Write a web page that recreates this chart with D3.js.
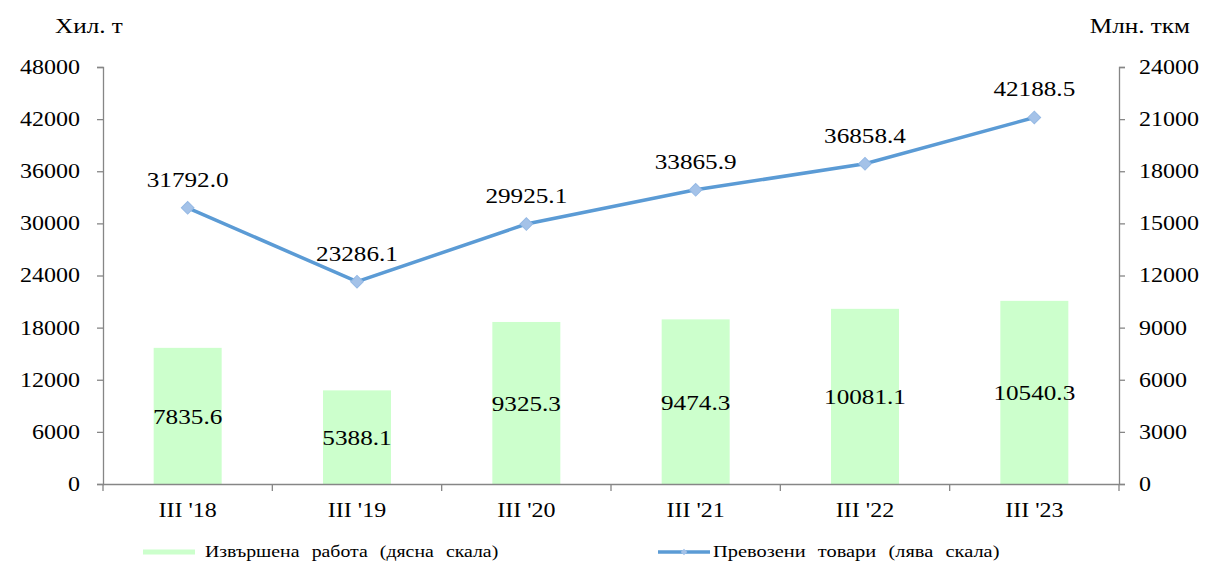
<!DOCTYPE html>
<html><head><meta charset="utf-8">
<script src="https://cdn.jsdelivr.net/npm/d3@7"></script>
<style>body{margin:0;background:#fff}svg{display:block}svg text{font-family:"Liberation Serif","Times New Roman",Tinos,"DejaVu Serif",serif;fill:#000}</style>
</head><body><svg id="c" width="1214" height="562"></svg>
<script>
const categories=["III '18","III '19","III '20","III '21","III '22","III '23"];
const workValues=[7835.6,5388.1,9325.3,9474.3,10081.1,10540.3];
const goodsValues=[31792.0,23286.1,29925.1,33865.9,36858.4,42188.5];
const leftTicks=[0,6000,12000,18000,24000,30000,36000,42000,48000];
const rightTicks=[0,3000,6000,9000,12000,15000,18000,21000,24000];
const svg=d3.select("#c");
const L=103,R=1119,T=67,B=484;
const x=d3.scaleBand().domain(categories).range([L,R]);
const yL=d3.scaleLinear().domain([0,48000]).range([B,T]);
const yR=d3.scaleLinear().domain([0,24000]).range([B,T]);
const axisColor="#868686";
const FF='"Liberation Serif","Times New Roman",Tinos,"DejaVu Serif",serif';
// bars
const bw=68;
svg.selectAll("rect.bar").data(workValues).join("rect").attr("class","bar")
 .attr("x",(d,i)=>x(categories[i])+x.bandwidth()/2-bw/2).attr("width",bw)
 .attr("y",d=>yR(d)).attr("height",d=>B-yR(d)).attr("fill","#CCFFCC");
// axes
const gl=svg.append("g").attr("transform",`translate(${L},0)`).call(d3.axisLeft(yL).tickValues(leftTicks).tickSize(6).tickPadding(17).tickFormat(d3.format("d")));
const gr=svg.append("g").attr("transform",`translate(${R},0)`).call(d3.axisRight(yR).tickValues(rightTicks).tickSize(6).tickPadding(14).tickFormat(d3.format("d")));
const gx=svg.append("g").attr("transform",`translate(0,${B})`).call(d3.axisBottom(x).tickSize(0).tickPadding(19));
[gl,gr,gx].forEach(g=>{g.attr("font-family",FF).attr("font-size",20);g.selectAll("path,line").attr("stroke",axisColor).attr("stroke-width",1.3);g.selectAll("text").style("font-size","20px");});
gx.select(".domain").attr("d",`M${L},0.5H${R}`);
// category boundary ticks
const bounds=categories.map(c=>x(c)).concat([R]);
svg.selectAll("line.bt").data(bounds).join("line").attr("class","bt")
 .attr("x1",d=>d).attr("x2",d=>d).attr("y1",B).attr("y2",B+7).attr("stroke",axisColor).attr("stroke-width",1.3);
// line
const cx=i=>x(categories[i])+x.bandwidth()/2;
const line=d3.line().x((d,i)=>cx(i)).y(d=>yL(d));
svg.append("path").datum(goodsValues).attr("d",line).attr("fill","none").attr("stroke","#5B9BD5").attr("stroke-width",3.5);
svg.selectAll("path.mk").data(goodsValues).join("path").attr("class","mk")
 .attr("d",d3.symbol(d3.symbolSquare,80)())
 .attr("transform",(d,i)=>`translate(${cx(i)},${yL(d)}) rotate(45)`).attr("fill","#A4C2E8").attr("stroke","#95B9E4").attr("stroke-width",1);
// labels
svg.selectAll("text.gl").data(goodsValues).join("text").attr("class","gl")
 .attr("x",(d,i)=>cx(i)).attr("y",d=>yL(d)-21).attr("text-anchor","middle").style("font-size","21px").text(d=>d.toFixed(1));
svg.selectAll("text.wl").data(workValues).join("text").attr("class","wl")
 .attr("x",(d,i)=>cx(i)).attr("y",d=>(yR(d)+B)/2+8).attr("text-anchor","middle").style("font-size","21px").text(d=>d.toFixed(1));
// axis titles
svg.append("text").attr("x",55).attr("y",33).style("font-size","21px").text("Хил. т");
svg.append("text").attr("x",1190).attr("y",33).attr("text-anchor","end").style("font-size","21px").text("Млн. ткм");
// legend
svg.append("line").attr("x1",143).attr("x2",195).attr("y1",552).attr("y2",552).attr("stroke","#CCFFCC").attr("stroke-width",5);
svg.append("text").attr("x",205).attr("y",557).style("font-size","16.5px").style("word-spacing","6px").text("Извършена работа (дясна скала)");
svg.append("line").attr("x1",658).attr("x2",710).attr("y1",552).attr("y2",552).attr("stroke","#5B9BD5").attr("stroke-width",3.5);
svg.append("path").attr("d",d3.symbol(d3.symbolSquare,22)()).attr("transform","translate(684,552) rotate(45)").attr("fill","#A4C2E8");
svg.append("text").attr("x",713).attr("y",557).style("font-size","17px").style("word-spacing","6px").text("Превозени товари (лява скала)");
// horizontal stretch of all text (reference glyphs are wider than tall)
const S=1.2;
svg.selectAll("text").each(function(){
  const t=d3.select(this); const ax=+(t.attr("x")||0);
  const prev=t.attr("transform")||"";
  t.attr("transform",`${prev} translate(${ax*(1-S)},0) scale(${S},1)`);
});
</script></body></html>
